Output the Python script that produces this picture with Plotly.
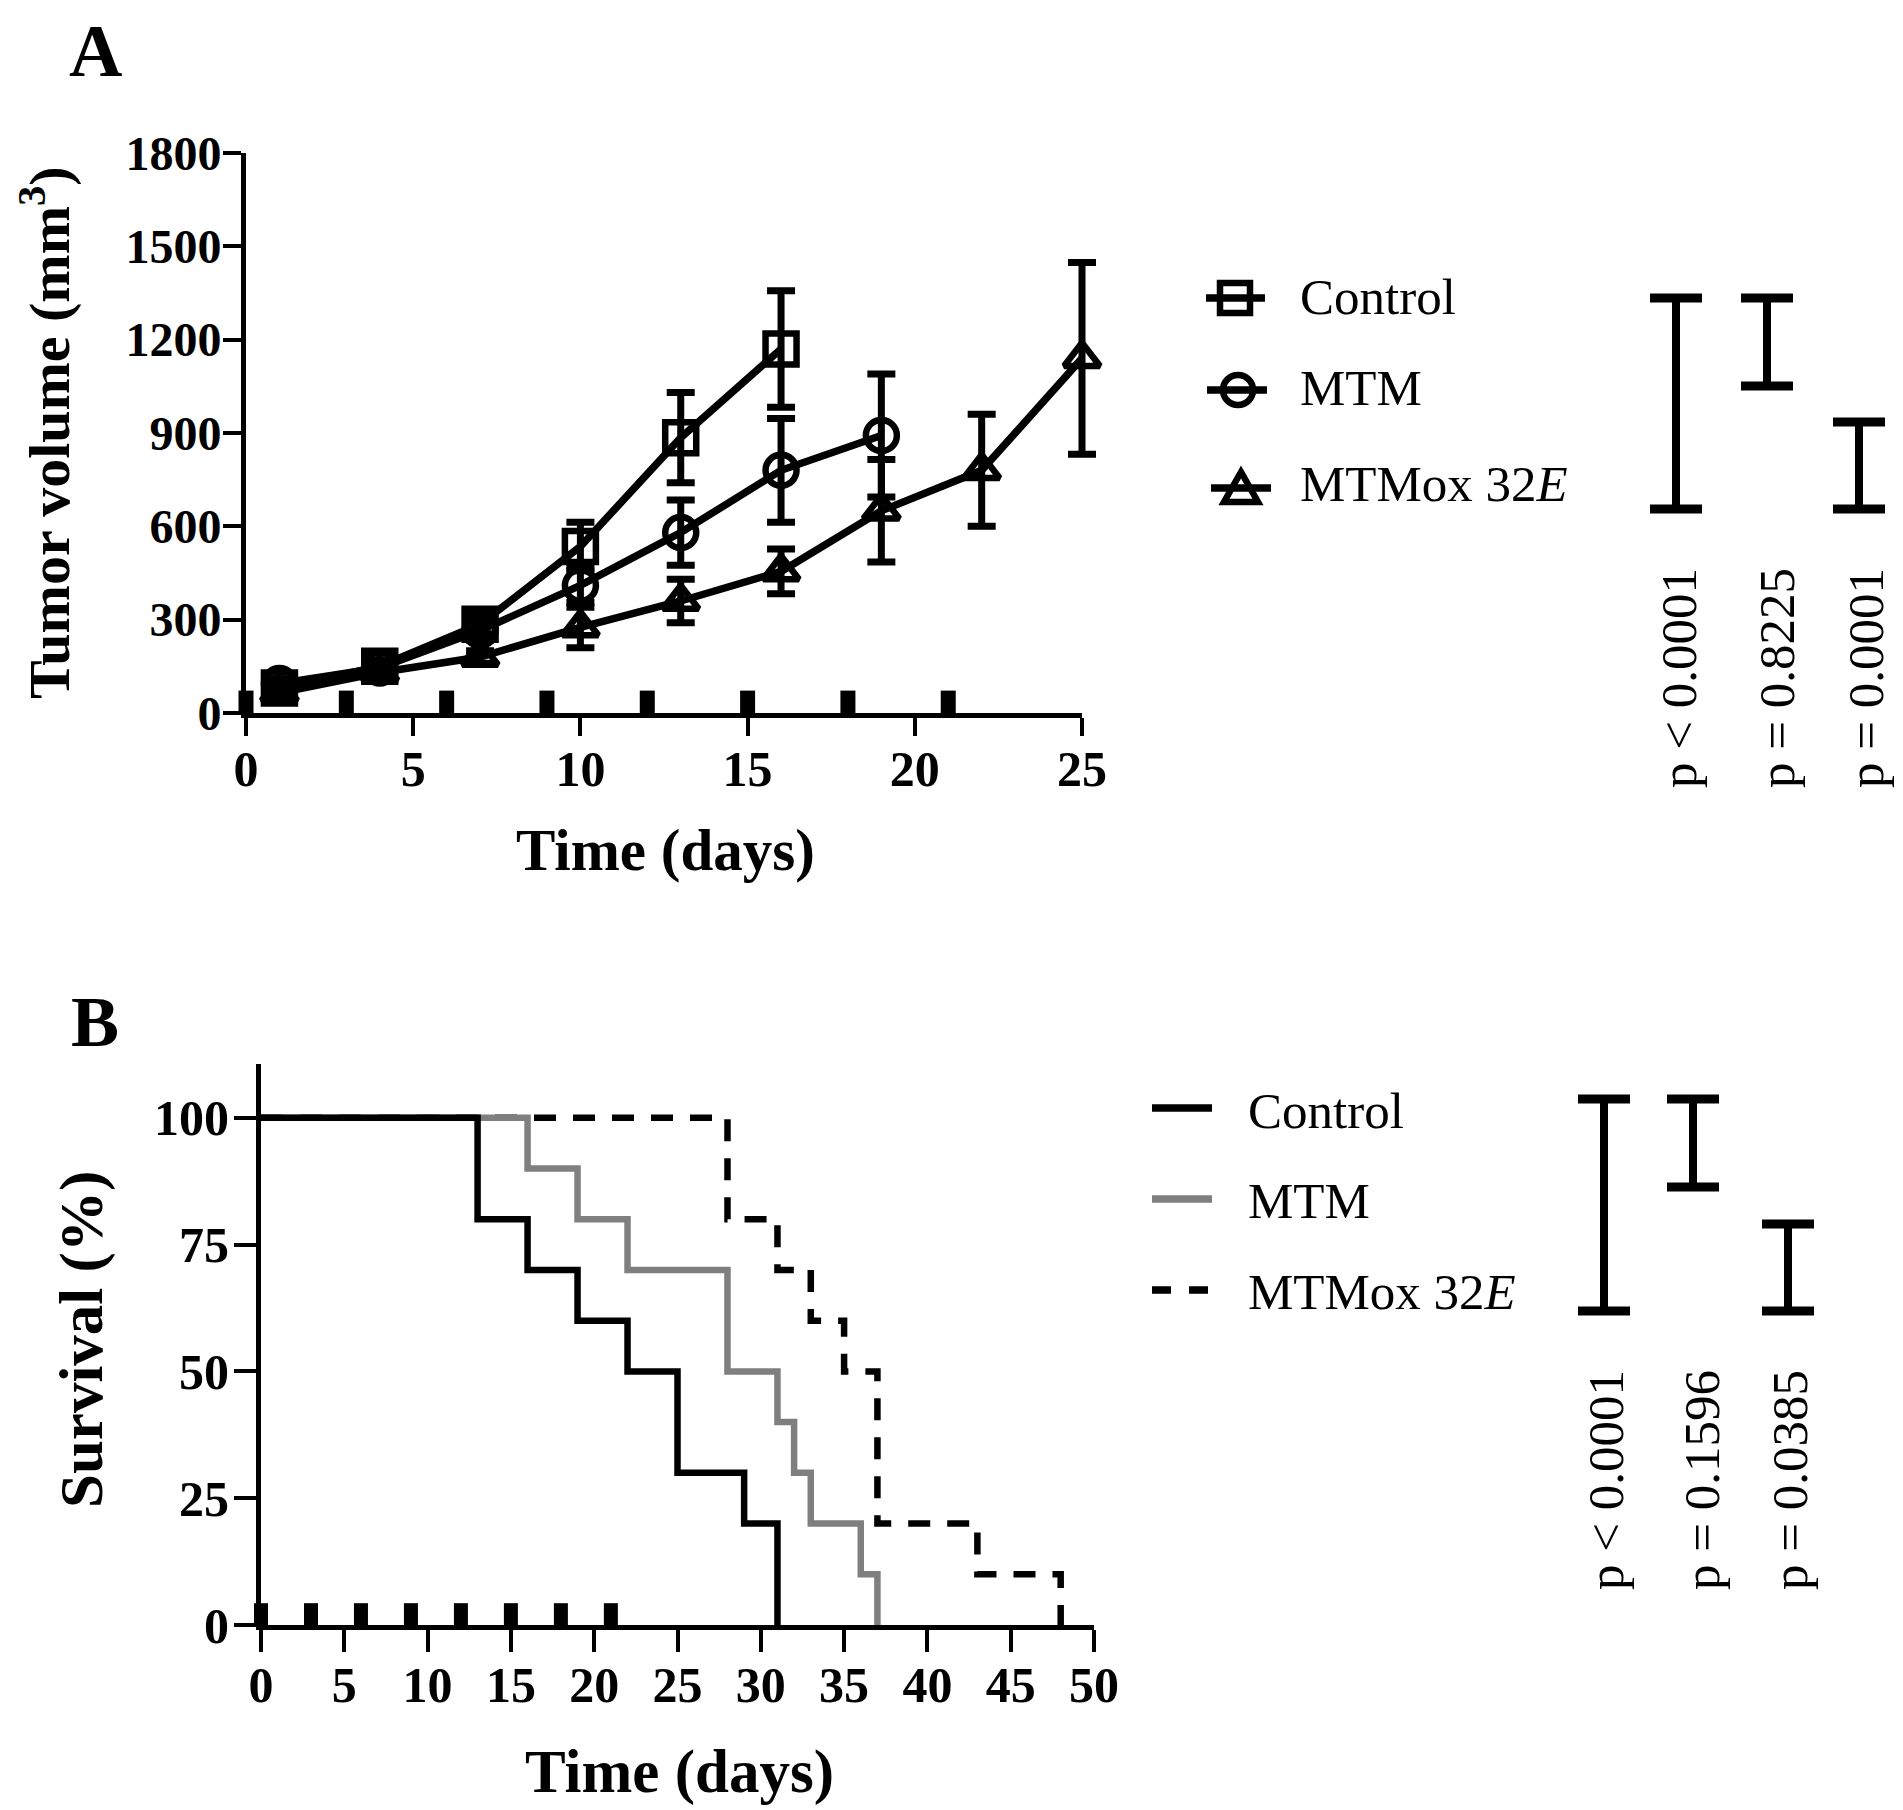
import plotly.graph_objects as go

W, H = 1903, 1810
OFF = 8  # the page body adds an 8px margin; positions below are given in screen pixels

# ---------------- Panel A data (tumor volume, mean +/- SEM) ----------------
days_A = [1, 4, 7, 10, 13, 16, 19, 22, 25]
control_vol = [80, 150, 285, 535, 885, 1170]
control_sem = [15, 20, 30, 78, 145, 187]
mtm_vol = [95, 145, 265, 410, 580, 780, 892]
mtm_sem = [15, 20, 30, 55, 105, 167, 198]
mtmox_vol = [65, 130, 180, 275, 360, 455, 650, 780, 1140]
mtmox_sem = [10, 15, 20, 65, 70, 72, 165, 180, 308]
treat_days = [0, 3, 6, 9, 12, 15, 18, 21]
treat_h_A = 72
treat_h_B = 4.3

# ---------------- Panel B data (Kaplan-Meier survival) ----------------
ctrl_t = [0, 13, 16, 19, 22, 25, 29, 31]
ctrl_s = [100, 80, 70, 60, 50, 30, 20, 0]
mtm_t = [0, 16, 19, 22, 28, 31, 32, 33, 36, 37]
mtm_s = [100, 90, 80, 70, 50, 40, 30, 20, 10, 0]
mtmox_t = [0, 28, 31, 33, 35, 37, 43, 48]
mtmox_s = [100, 80, 70, 60, 50, 20, 10, 0]

series_names = ["Control", "MTM", "MTMox 32<i>E</i>"]
pvals_A = ["p &lt; 0.0001", "p = 0.8225", "p = 0.0001"]
pvals_B = ["p &lt; 0.0001", "p = 0.1596", "p = 0.0385"]

yticks_A = [0, 300, 600, 900, 1200, 1500, 1800]
xticks_A = [0, 5, 10, 15, 20, 25]
yticks_B = [0, 25, 50, 75, 100]
xticks_B = list(range(0, 55, 5))

SERIF = "Liberation Serif"
GRAY = "#7f7f7f"

# pixel geometry of the two plot areas (screen px)
A_L, A_R, A_B, A_T = 246, 1082, 713, 153
B_L, B_R, B_B, B_T = 261, 1094, 1625, 1064
A_XR, A_YR = [0, 25], [0, 1800]
B_XR, B_YR = [0, 50], [0, 110.6]
PAD = 45


def X(p):
    return (p - OFF) / W


def Y(p):
    return 1 - (p - OFF) / H


def padded(l, r, b, t, xr, yr):
    """Domain/range of an invisible overlay subplot with the same scale but a larger area
    (so that error bars touching the axes are not clipped)."""
    sx = (xr[1] - xr[0]) / (r - l)
    sy = (yr[1] - yr[0]) / (b - t)
    xd = [X(l - PAD), X(r + PAD)]
    yd = [Y(b + PAD), Y(t - PAD)]
    xrr = [xr[0] - PAD * sx, xr[1] + PAD * sx]
    yrr = [yr[0] - PAD * sy, yr[1] + PAD * sy]
    return xd, yd, xrr, yrr


fig = go.Figure()

# ---------- Panel A: lines + markers on visible axes ----------
sym = ["square-open", "circle-open", "triangle-up-open"]
vols = [control_vol, mtm_vol, mtmox_vol]
sems = [control_sem, mtm_sem, mtmox_sem]
for v, s, nm in zip(vols, sym, series_names):
    fig.add_trace(go.Scatter(
        x=days_A[:len(v)], y=v, name=nm, mode="lines+markers",
        line=dict(color="black", width=7.5),
        marker=dict(symbol=s, size=31, color="black", line=dict(width=6.5, color="black")),
        cliponaxis=False, xaxis="x", yaxis="y"))

# Panel A error bars + treatment marks on the overlay subplot
fig.add_trace(go.Scatter(
    x=treat_days, y=[0] * len(treat_days), mode="markers",
    marker=dict(size=1, color="rgba(0,0,0,0)"),
    error_y=dict(type="data", symmetric=False, array=[treat_h_A] * len(treat_days),
                 arrayminus=[0] * len(treat_days), thickness=15, width=0, color="black"),
    cliponaxis=False, xaxis="x3", yaxis="y3", hoverinfo="skip"))
for v, e, nm in zip(vols, sems, series_names):
    fig.add_trace(go.Scatter(
        x=days_A[:len(v)], y=v, name=nm, mode="markers",
        marker=dict(size=1, color="rgba(0,0,0,0)"),
        error_y=dict(type="data", array=e, thickness=7, width=14, color="black"),
        cliponaxis=False, xaxis="x3", yaxis="y3", hoverinfo="skip"))

# ---------- Panel B ----------
surv = [(mtmox_t, mtmox_s, "black", "22px,17px", series_names[2]),
        (mtm_t, mtm_s, GRAY, "solid", series_names[1]),
        (ctrl_t, ctrl_s, "black", "solid", series_names[0])]
for t, s, c, d, nm in surv:
    fig.add_trace(go.Scatter(
        x=t, y=s, name=nm, mode="lines", line_shape="hv",
        line=dict(color=c, width=6.5, dash=d),
        cliponaxis=False, xaxis="x2", yaxis="y2"))

fig.add_trace(go.Scatter(
    x=treat_days, y=[0] * len(treat_days), mode="markers",
    marker=dict(size=1, color="rgba(0,0,0,0)"),
    error_y=dict(type="data", symmetric=False, array=[treat_h_B] * len(treat_days),
                 arrayminus=[0] * len(treat_days), thickness=14, width=0, color="black"),
    cliponaxis=False, xaxis="x4", yaxis="y4", hoverinfo="skip"))

tickfont = dict(family=SERIF, size=50, color="black", weight="bold")
axis_common = dict(showgrid=False, zeroline=False, showline=True, linecolor="black",
                   linewidth=5, ticks="outside", tickcolor="black", tickwidth=4,
                   fixedrange=True)
hidden = dict(visible=False, showgrid=False, zeroline=False, fixedrange=True)

a_xd, a_yd, a_xr, a_yr = padded(A_L, A_R, A_B, A_T, A_XR, A_YR)
b_xd, b_yd, b_xr, b_yr = padded(B_L, B_R, B_B, B_T, B_XR, B_YR)

fig.update_layout(
    width=W, height=H, margin=dict(l=0, r=0, t=0, b=0, pad=0, autoexpand=False),
    paper_bgcolor="white", plot_bgcolor="rgba(0,0,0,0)", showlegend=False,
    xaxis=dict(domain=[X(A_L), X(A_R)], range=A_XR, tickvals=xticks_A, tickfont=tickfont,
               ticklen=18, ticklabelstandoff=-10, anchor="y", **axis_common),
    yaxis=dict(domain=[Y(A_B), Y(A_T)], range=A_YR, tickvals=yticks_A,
               tickfont=dict(tickfont, size=48),
               ticklen=18, ticklabelstandoff=-8, anchor="x", **axis_common),
    xaxis2=dict(domain=[X(B_L), X(B_R)], range=B_XR, tickvals=xticks_B, tickfont=tickfont,
                ticklen=22, ticklabelstandoff=-10, anchor="y2", **axis_common),
    yaxis2=dict(domain=[Y(B_B), Y(B_T)], range=B_YR, tickvals=yticks_B, tickfont=tickfont,
                ticklen=22, ticklabelstandoff=-5, anchor="x2", **axis_common),
    xaxis3=dict(domain=a_xd, range=a_xr, anchor="y3", **hidden),
    yaxis3=dict(domain=a_yd, range=a_yr, anchor="x3", **hidden),
    xaxis4=dict(domain=b_xd, range=b_xr, anchor="y4", **hidden),
    yaxis4=dict(domain=b_yd, range=b_yr, anchor="x4", **hidden),
)

ann = []


def text(x, y, s, size, bold=False, angle=0, xanchor="center", yanchor="middle", ypaper=None):
    ann.append(dict(x=X(x), y=Y(y) if ypaper is None else ypaper, xref="paper", yref="paper",
                    text=s, showarrow=False, textangle=angle, xanchor=xanchor, yanchor=yanchor,
                    font=dict(family=SERIF, size=size, color="black",
                              weight="bold" if bold else "normal")))


# panel letters and axis titles
text(95, 0, "A", 74, bold=True, yanchor="top", ypaper=1.0)
text(95, 1022, "B", 72, bold=True)
text(45, 433, "Tumor volume (mm<sup>3</sup>)", 58, bold=True, angle=-90)
text(665, 850, "Time (days)", 59, bold=True)
text(82, 1340, "Survival (%)", 61, bold=True, angle=-90)
text(679, 1772, "Time (days)", 61, bold=True)

# legends (text)
legA_y = [297, 388, 484]
legB_y = [1111, 1201, 1292]
for nm, ya, yb in zip(series_names, legA_y, legB_y):
    text(1298, ya, nm, 51, xanchor="left")
    text(1246, yb, nm, 51, xanchor="left")

# p-values
for p, xa in zip(pvals_A, [1679, 1777, 1866]):
    text(xa, 678, p, 51, angle=-90)
for p, xb in zip(pvals_B, [1606, 1702, 1790]):
    text(xb, 1480, p, 51, angle=-90)

shapes = []


def seg(x0, y0, x1, y1, w, color="black", dash="solid"):
    shapes.append(dict(type="line", xref="paper", yref="paper", x0=X(x0), y0=Y(y0),
                       x1=X(x1), y1=Y(y1), line=dict(color=color, width=w, dash=dash)))


def bracket(xc, top, bot, hw=26, w=8):
    seg(xc, top, xc, bot, w)
    seg(xc - hw, top, xc + hw, top, w + 1)
    seg(xc - hw, bot, xc + hw, bot, w + 1)


# significance brackets
bracket(1676, 298, 509)
bracket(1767, 298, 386)
bracket(1859, 422, 509)
bracket(1604, 1099, 1311)
bracket(1693, 1099, 1187)
bracket(1788, 1224, 1311)

# legend A symbols
seg(1206, legA_y[0] + 1, 1265, legA_y[0] + 1, 7.5)
shapes.append(dict(type="rect", xref="paper", yref="paper", x0=X(1220), x1=X(1250),
                   y0=Y(283), y1=Y(313), line=dict(color="black", width=6.5)))
seg(1207, legA_y[1] + 2, 1267, legA_y[1] + 2, 7.5)
shapes.append(dict(type="circle", xref="paper", yref="paper", x0=X(1223), x1=X(1253),
                   y0=Y(375), y1=Y(405), line=dict(color="black", width=6.5)))
seg(1211, legA_y[2] + 4, 1271, legA_y[2] + 4, 7.5)
shapes.append(dict(type="path", xref="paper", yref="paper",
                   path="M {} {} L {} {} L {} {} Z".format(X(1241), Y(472), X(1224), Y(502), X(1258), Y(502)),
                   line=dict(color="black", width=6.5)))

# legend B symbols
seg(1152, 1108, 1212, 1108, 7.5)
seg(1152, 1199, 1212, 1199, 7.5, color=GRAY)
seg(1152, 1290, 1211, 1290, 7.5, dash="19px,18px")

fig.update_layout(annotations=ann, shapes=shapes)

fig.write_html("out.html")
